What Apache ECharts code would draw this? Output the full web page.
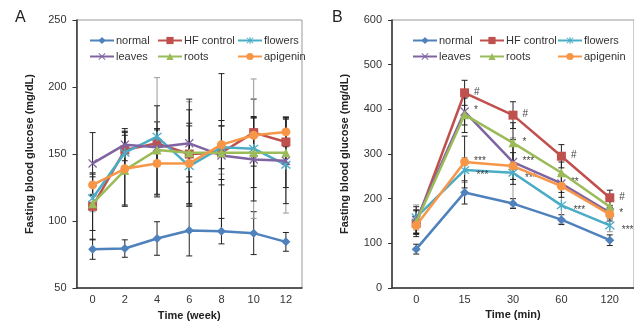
<!DOCTYPE html>
<html>
<head>
<meta charset="utf-8">
<script src="https://cdn.jsdelivr.net/npm/echarts@6/dist/echarts.min.js"></script>
<style>
html, body { margin: 0; padding: 0; background: #fff; }
#chart { width: 634px; height: 326px; }
</style>
</head>
<body>
<div id="chart"></div>
<script>
// categories
const weekLabels = ['0', '2', '4', '6', '8', '10', '12']
const minLabels = ['0', '15', '30', '60', '120']
const names = ['normal', 'HF control', 'flowers', 'leaves', 'roots', 'apigenin']

// panel A: fasting glucose over weeks (mean, +/- error)
const normalWeek = [79, 79.5, 87, 93, 92.5, 91, 84.5]
const normalWeekErr = [7.5, 6.5, 12.5, 19, 9.5, 16, 7]
const hfWeek = [111, 153, 158, 150, 151, 166, 159]
const hfWeekErr = [25, 13, 16, 21, 20, 25, 17]
const flowersWeek = [117, 151, 163, 141, 155, 154, 142]
const flowersWeekErr = [10, 16, 44, 48, 20, 52, 36]
const leavesWeek = [143, 157, 155, 158, 149, 146, 145]
const leavesWeekErr = [23, 12, 14, 25, 22, 31, 32]
const rootsWeek = [113, 138, 153, 151, 151, 151, 151]
const rootsWeekErr = [20, 26, 33, 40, 59, 26, 26]
const apigeninWeek = [127, 139, 143, 143, 157, 164, 166.5]
const apigeninWeekErr = [8, 28, 25, 30, 18, 14, 11]

// panel B: glucose tolerance (mean, +/- error, significance marks)
const normalMin = [87, 214, 189, 153, 107]
const normalMinErr = [11, 26, 11, 11, 12]
const hfMin = [145, 437, 387, 295, 202]
const hfMinErr = [30, 28, 30, 26, 17]
const flowersMin = [158, 264, 258, 185, 140]
const flowersMinErr = [28, 28, 78, 40, 14]
const leavesMin = [152, 395, 282, 234, 169]
const leavesMinErr = [30, 30, 50, 20, 12]
const rootsMin = [148, 388, 325, 258, 182]
const rootsMinErr = [25, 40, 45, 24, 14]
const apigeninMin = [140, 282, 273, 228, 165]
const apigeninMinErr = [20, 58, 30, 25, 15]

const hfMarks = ['', '#', '#', '#', '#']
const flowersMarks = ['', '***', '***', '***', '***']
const leavesMarks = ['', '*', '***', '**', '']
const rootsMarks = ['', '', '*', '', '']
const apigeninMarks = ['', '***', '', '', '*']

const colors = ['#4F81BD', '#C0504D', '#4BACC6', '#8064A2', '#9BBB59', '#F79646']
const errColors = ['#222', '#222', '#999', '#222', '#222', '#222']
const crossPath = 'path://M0,1L1,0L5,4L9,0L10,1L6,5L10,9L9,10L5,6L1,10L0,9L4,5Z'
const starPath = 'path://M0,1L1,0L5,4L9,0L10,1L6,5L10,9L9,10L5,6L1,10L0,9L4,5Z M4.3,-1L5.7,-1L5.7,11L4.3,11Z'
const symbols = ['diamond', 'rect', starPath, crossPath, 'triangle', 'circle']
const symbolSizes = [9, 9, 10, 9, 9, 9]
const font = '"Liberation Sans", Arial, sans-serif'

const weekData = [
  [normalWeek, normalWeekErr], [hfWeek, hfWeekErr], [flowersWeek, flowersWeekErr],
  [leavesWeek, leavesWeekErr], [rootsWeek, rootsWeekErr], [apigeninWeek, apigeninWeekErr]
]
const minData = [
  [normalMin, normalMinErr, null], [hfMin, hfMinErr, hfMarks], [flowersMin, flowersMinErr, flowersMarks],
  [leavesMin, leavesMinErr, leavesMarks], [rootsMin, rootsMinErr, rootsMarks], [apigeninMin, apigeninMinErr, apigeninMarks]
]

function renderErr(params, api) {
  const x = api.value(0)
  const lo = api.coord([x, api.value(1)])
  const hi = api.coord([x, api.value(2)])
  const w = 3
  const style = { stroke: api.visual('color'), lineWidth: 1 }
  return {
    type: 'group',
    children: [
      { type: 'line', shape: { x1: lo[0], y1: lo[1], x2: hi[0], y2: hi[1] }, style: style },
      { type: 'line', shape: { x1: lo[0] - w, y1: lo[1], x2: lo[0] + w, y2: lo[1] }, style: style },
      { type: 'line', shape: { x1: hi[0] - w, y1: hi[1], x2: hi[0] + w, y2: hi[1] }, style: style }
    ]
  }
}

let series = []
function addPanel(gi, data) {
  // error bars first so the lines sit on top
  data.forEach((d, i) => {
    series.push({
      type: 'custom',
      name: names[i] + ' err',
      xAxisIndex: gi,
      yAxisIndex: gi,
      renderItem: renderErr,
      itemStyle: { color: errColors[i] },
      encode: { x: 0, y: [1, 2] },
      data: d[0].map((v, k) => [k, v - d[1][k], v + d[1][k]]),
      z: 1,
      silent: true
    })
  })
  data.forEach((d, i) => {
    const marks = d[2]
    series.push({
      type: 'line',
      name: names[i],
      xAxisIndex: gi,
      yAxisIndex: gi,
      symbol: symbols[i],
      symbolSize: symbolSizes[i],
      lineStyle: { width: 2.5, color: colors[i] },
      itemStyle: { color: colors[i] },
      z: 3 + i,
      data: d[0].map((v, k) => {
        const item = { value: v }
        if (marks && marks[k]) {
          item.label = {
            show: true,
            formatter: marks[k],
            position: 'right',
            distance: 5,
            offset: names[i] === 'flowers' ? [2, 5] : [0, -1],
            fontSize: 10,
            color: '#444',
            fontFamily: font
          }
        }
        return item
      })
    })
  })
}
addPanel(0, weekData)
addPanel(1, minData)

function legendCols(lefts) {
  const cols = [['normal', 'leaves'], ['HF control', 'roots'], ['flowers', 'apigenin']]
  return cols.map((c, i) => ({
    orient: 'vertical',
    left: lefts[i],
    top: 30,
    itemGap: 5,
    itemWidth: 24,
    itemHeight: 9,
    selectedMode: false,
    textStyle: { fontSize: 11, color: '#333', fontFamily: font, padding: [0, 0, 0, -3] },
    data: c
  }))
}

function xAxis(gi, labels, name) {
  return {
    type: 'category',
    gridIndex: gi,
    data: labels,
    name: name,
    nameLocation: 'middle',
    nameGap: 20,
    nameTextStyle: { fontSize: 11, fontWeight: 'bold', color: '#222', fontFamily: font },
    axisLine: { lineStyle: { color: '#333', width: 1.5 } },
    axisTick: { length: 5, lineStyle: { color: '#333' } },
    axisLabel: { fontSize: 11, color: '#333', margin: 6, fontFamily: font }
  }
}
function yAxis(gi, min, max, step, gap) {
  return {
    type: 'value',
    gridIndex: gi,
    min: min,
    max: max,
    interval: step,
    name: 'Fasting blood glucose (mg/dL)',
    nameLocation: 'middle',
    nameGap: gap,
    nameTextStyle: { fontSize: 11, fontWeight: 'bold', color: '#222', fontFamily: font },
    axisLine: { show: true, lineStyle: { color: '#333', width: 1.5 } },
    axisTick: { show: true, length: 4, lineStyle: { color: '#333' } },
    axisLabel: { fontSize: 11, color: '#333', margin: 10, fontFamily: font },
    splitLine: { show: false }
  }
}

const chart = echarts.init(document.getElementById('chart'))
chart.setOption({
  animation: false,
  backgroundColor: '#fff',
  grid: [
    { left: 76.5, top: 20, width: 225.5, height: 270, show: true, borderColor: '#999', borderWidth: 1 },
    { left: 392, top: 20, width: 243, height: 268, show: true, borderColor: '#999', borderWidth: 1 }
  ],
  legend: legendCols([84, 152, 232]).concat(legendCols([407, 474, 552])),
  xAxis: [xAxis(0, weekLabels, 'Time (week)'), xAxis(1, minLabels, 'Time (min)')],
  yAxis: [yAxis(0, 50, 250, 50, 41), yAxis(1, 0, 600, 100, 42)],
  graphic: [
    { type: 'text', left: 15, top: 10, style: { text: 'A', font: '16px ' + font, fill: '#222' } },
    { type: 'text', left: 332, top: 10, style: { text: 'B', font: '16px ' + font, fill: '#222' } }
  ],
  series: series
})
</script>
</body>
</html>
